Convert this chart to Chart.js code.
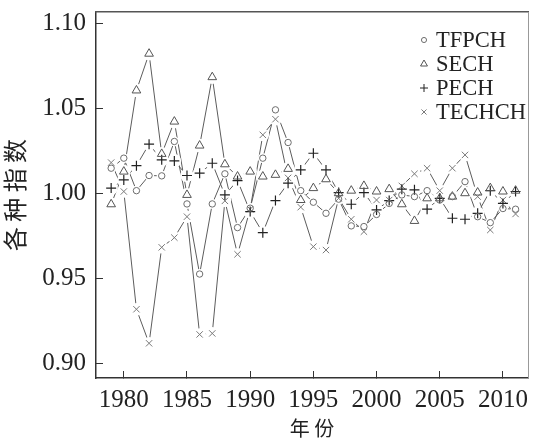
<!DOCTYPE html>
<html><head><meta charset="utf-8">
<script src="https://cdn.jsdelivr.net/npm/chart.js@4/dist/chart.umd.min.js"></script>
<style>html,body{margin:0;padding:0;background:#fff;}#wrap{width:535px;height:440px;}</style>
</head><body><div id="wrap"><canvas id="c" width="535" height="440"></canvas></div>
<script>
const years = [1979,1980,1981,1982,1983,1984,1985,1986,1987,1988,1989,1990,1991,1992,1993,1994,1995,1996,1997,1998,1999,2000,2001,2002,2003,2004,2005,2006,2007,2008,2009,2010,2011];
const tfpch  = [1.0147,1.0206,1.0015,1.0104,1.0102,1.0304,0.9937,0.9525,0.9937,1.0114,0.9798,0.9912,1.0206,1.0490,1.0298,1.0015,0.9947,0.9882,0.9965,0.9808,0.9804,0.9875,0.9940,0.9990,0.9980,1.0015,0.9960,0.9980,1.0068,0.9862,0.9827,0.9910,0.9906];
const sech   = [0.9935,1.0127,1.0604,1.0820,1.0231,1.0421,0.9990,1.0280,1.0682,1.0170,1.0098,1.0127,1.0098,1.0108,1.0143,0.9960,1.0030,1.0082,1.0000,1.0015,1.0043,1.0010,1.0024,0.9935,0.9837,0.9970,0.9970,0.9980,1.0000,1.0004,1.0030,1.0010,1.0015];
const pech   = [1.0030,1.0078,1.0162,1.0288,1.0196,1.0190,1.0104,1.0118,1.0176,0.9990,1.0074,0.9892,0.9768,0.9957,1.0059,1.0137,1.0235,1.0137,1.0004,0.9935,1.0004,0.9902,0.9957,1.0024,1.0020,0.9906,0.9970,0.9853,0.9847,0.9882,1.0015,0.9940,1.0010];
const techch = [1.0180,1.0010,0.9318,0.9118,0.9682,0.9739,0.9862,0.9170,0.9176,0.9955,0.9641,0.9906,1.0343,1.0435,1.0090,0.9918,0.9686,0.9666,0.9970,0.9847,0.9774,0.9960,0.9960,1.0043,1.0114,1.0147,1.0015,1.0147,1.0225,0.9980,0.9784,0.9960,0.9878];
const seriesNames = ['TFPCH','SECH','PECH','TECHCH'];
const xTicks = [1980,1985,1990,1995,2000,2005,2010];
const yTicks = [0.90,0.95,1.00,1.05,1.10];

const seriesValues = [tfpch, sech, pech, techch];
const styles = [
  {pointStyle:'circle',   radius:3.2, color:'#6e6e6e', width:1},
  {pointStyle:'triangle', radius:5,   color:'#555555', width:1},
  {pointStyle:'cross',    radius:5,   color:'#222222', width:1.2},
  {pointStyle:'crossRot', radius:4.5, color:'#7a7a7a', width:1}
];
const toPts = vals => years.map((y,i)=>({x:y, y:vals[i]}));

const datasets = [];
seriesValues.forEach((vals,i)=>{
  datasets.push({label:seriesNames[i]+'_line', data:toPts(vals), showLine:true, borderColor:'#5c5c5c', borderWidth:1, pointRadius:0, order:3, fill:false, tension:0});
});
seriesValues.forEach((vals,i)=>{
  datasets.push({label:seriesNames[i]+'_halo', data:toPts(vals), showLine:false, pointStyle:'circle', pointRadius:styles[i].radius+1.8, pointBackgroundColor:'#fff', pointBorderWidth:0, pointBorderColor:'rgba(0,0,0,0)', order:2});
});
seriesValues.forEach((vals,i)=>{
  datasets.push({label:seriesNames[i], data:toPts(vals), showLine:false, pointStyle:styles[i].pointStyle, pointRadius:styles[i].radius, pointBorderColor:styles[i].color, pointBackgroundColor:'rgba(255,255,255,0)', pointBorderWidth:styles[i].width, order:1});
});

const innerLegend = {
  id:'innerLegend',
  afterDraw(chart){
    const ctx = chart.ctx;
    ctx.save();
    seriesNames.forEach((name,i)=>{
      const y = 40 + i*24;
      ctx.strokeStyle = styles[i].color;
      ctx.fillStyle = 'rgba(255,255,255,0)';
      ctx.lineWidth = 1;
      Chart.helpers.drawPoint(ctx, {pointStyle:styles[i].pointStyle, radius:styles[i].radius*0.8, borderWidth:1, rotation:0}, 424, y);
      ctx.fillStyle = '#222';
      ctx.font = '22.5px "Liberation Serif"';
      ctx.textBaseline = 'middle';
      ctx.textAlign = 'left';
      ctx.fillText(name, 436, y+1);
    });
    ctx.restore();
  }
};

const noPad = s => { s.paddingTop = 0; s.paddingBottom = 0; s.paddingLeft = 0; s.paddingRight = 0; };
const tickFont = {family:'"Liberation Serif"', size:25};
new Chart(document.getElementById('c'), {
  type:'scatter',
  data:{datasets},
  plugins:[innerLegend],
  options:{
    responsive:false, animation:false, devicePixelRatio:1,
    layout:{padding:0},
    plugins:{legend:{display:false}, tooltip:{enabled:false}},
    scales:{
      x:{type:'linear', position:'bottom', min:1977.8, max:2012,
         afterBuildTicks:s=>{s.ticks = xTicks.map(v=>({value:v}));},
         afterFit:s=>{s.height = 62; noPad(s);},
         ticks:{font:tickFont, color:'#222', padding:14, maxRotation:0, callback:v=>String(v)},
         grid:{drawOnChartArea:false, tickLength:-7, color:'#333', tickWidth:1},
         border:{color:'#333', width:1.5},
         title:{display:true, text:'年 份', font:{family:'"Noto Sans CJK SC"', size:20}, color:'#222', padding:{top:0,bottom:0}}
      },
      y:{type:'linear', position:'left', min:0.8914, max:1.1065,
         afterBuildTicks:s=>{s.ticks = yTicks.map(v=>({value:v}));},
         afterFit:s=>{s.width = 96; noPad(s);},
         ticks:{font:tickFont, color:'#222', padding:17, callback:v=>v.toFixed(2)},
         grid:{drawOnChartArea:false, tickLength:-7, color:'#333', tickWidth:1},
         border:{color:'#333', width:1.5},
         title:{display:true, text:'各 种 指 数', font:{family:'"Noto Sans CJK SC"', size:24}, color:'#222', padding:{top:0,bottom:0}}
      },
      x2:{type:'linear', position:'top', min:1977.8, max:2012,
         afterFit:s=>{s.height = 12; noPad(s);},
         ticks:{display:false}, grid:{drawOnChartArea:false, drawTicks:false},
         border:{color:'#555', width:1.5}
      },
      y2:{type:'linear', position:'right', min:0.8914, max:1.1065,
         afterFit:s=>{s.width = 2; noPad(s);},
         ticks:{display:false}, grid:{drawOnChartArea:false, drawTicks:false},
         border:{color:'#999', width:1}
      }
    }
  }
});
</script></body></html>
